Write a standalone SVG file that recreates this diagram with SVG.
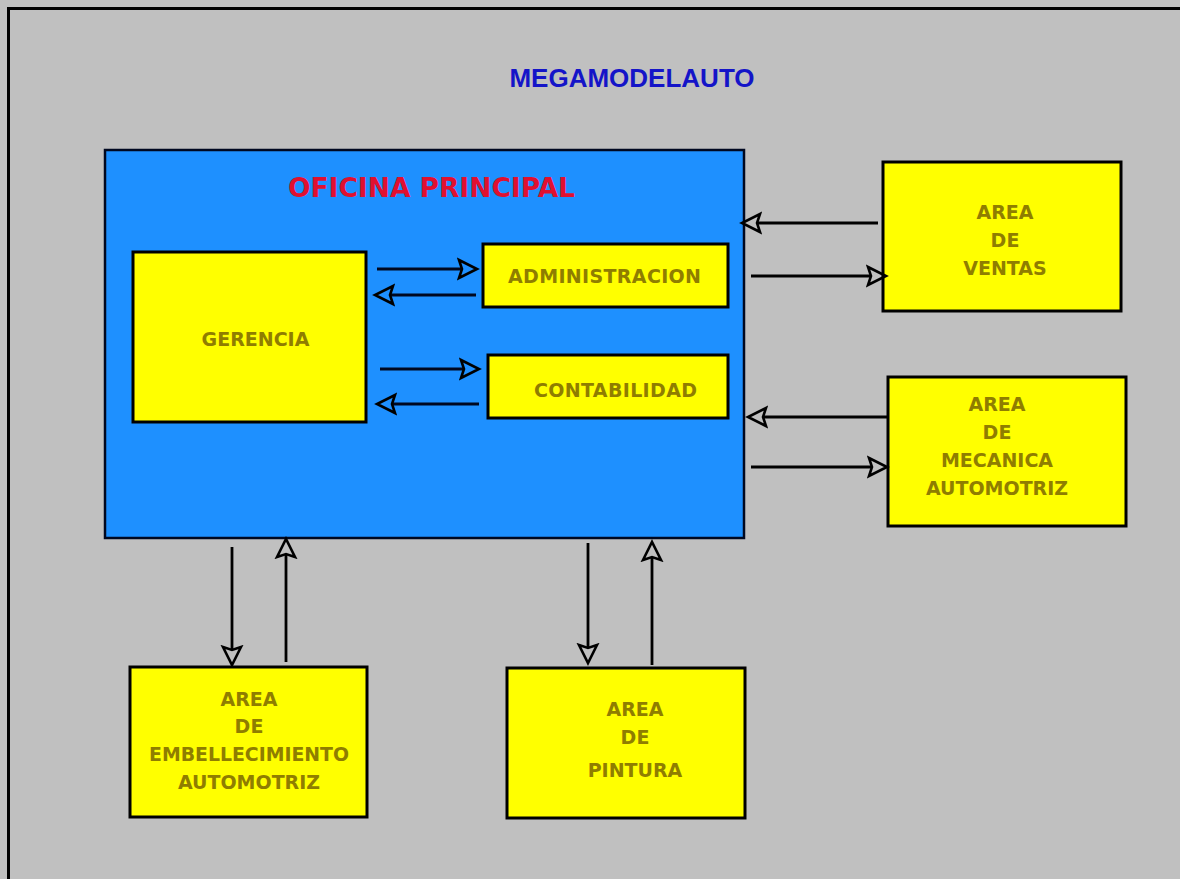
<svg xmlns="http://www.w3.org/2000/svg" width="1180" height="879" viewBox="0 0 1180 879">
  <style>
    .bg { fill: #c0c0c0; }
    .frame { stroke: #000; stroke-width: 3; fill: none; }
    .office { fill: #1e90ff; stroke: #000820; stroke-width: 2.5; }
    .box { fill: #ffff00; stroke: #000; stroke-width: 3; }
    .lbl { font-family: "DejaVu Sans", Verdana, sans-serif; font-weight: bold; font-size: 19px; fill: #8f7d00; text-anchor: middle; }
    .title { font-family: "Liberation Sans", Arial, sans-serif; font-weight: bold; font-size: 26px; fill: #1414c8; text-anchor: middle; }
    .office-title { font-family: "DejaVu Sans", Verdana, sans-serif; font-weight: bold; font-size: 26px; fill: #e01030; text-anchor: middle; }
    .link { stroke: #000; stroke-width: 2.8; fill: none; marker-end: url(#head); }
    .link-in { stroke: #000820; }
  </style>
  <defs>
    <marker id="head" viewBox="-2 -12 24 24" markerUnits="userSpaceOnUse" markerWidth="24" markerHeight="24" refX="3" refY="0" orient="auto">
      <path d="M0,-9 L18,0 L0,9 L3,0 Z" fill="none" stroke="#000" stroke-width="2.6" stroke-linejoin="miter"/>
    </marker>
  </defs>

  <!-- page -->
  <rect class="bg" x="0" y="0" width="1180" height="879"/>
  <path class="frame" d="M8.5,879 V8.5 H1180"/>

  <!-- title -->
  <text class="title" x="632" y="87">MEGAMODELAUTO</text>

  <!-- main office -->
  <g id="oficina-principal">
    <rect class="office" x="105" y="150" width="639" height="388"/>
    <text class="office-title" x="431.5" y="197" textLength="287" lengthAdjust="spacingAndGlyphs">OFICINA PRINCIPAL</text>
  </g>

  <g id="gerencia">
    <rect class="box" x="133" y="252" width="233" height="170"/>
    <text class="lbl" x="255.5" y="346">GERENCIA</text>
  </g>

  <g id="administracion">
    <rect class="box" x="483" y="244" width="245" height="63"/>
    <text class="lbl" x="604.5" y="283" textLength="193" lengthAdjust="spacing">ADMINISTRACION</text>
  </g>

  <g id="contabilidad">
    <rect class="box" x="488" y="355" width="240" height="63"/>
    <text class="lbl" x="615.5" y="397" textLength="163" lengthAdjust="spacing">CONTABILIDAD</text>
  </g>

  <g id="area-ventas">
    <rect class="box" x="883" y="162" width="238" height="149"/>
    <text class="lbl" x="1005" y="219">AREA</text>
    <text class="lbl" x="1005" y="247">DE</text>
    <text class="lbl" x="1005" y="275">VENTAS</text>
  </g>

  <g id="area-mecanica">
    <rect class="box" x="888" y="377" width="238" height="149"/>
    <text class="lbl" x="997" y="411">AREA</text>
    <text class="lbl" x="997" y="439">DE</text>
    <text class="lbl" x="997" y="467">MECANICA</text>
    <text class="lbl" x="997" y="495">AUTOMOTRIZ</text>
  </g>

  <g id="area-embellecimiento">
    <rect class="box" x="130" y="667" width="237" height="150"/>
    <text class="lbl" x="249" y="706">AREA</text>
    <text class="lbl" x="249" y="733">DE</text>
    <text class="lbl" x="249" y="761" textLength="200" lengthAdjust="spacingAndGlyphs">EMBELLECIMIENTO</text>
    <text class="lbl" x="249" y="789">AUTOMOTRIZ</text>
  </g>

  <g id="area-pintura">
    <rect class="box" x="507" y="668" width="238" height="150"/>
    <text class="lbl" x="635" y="716">AREA</text>
    <text class="lbl" x="635" y="744">DE</text>
    <text class="lbl" x="635" y="777">PINTURA</text>
  </g>

  <!-- connectors: each line stops where the hollow head's back notch sits (tip minus 15) -->
  <g id="connectors">
    <line class="link link-in" x1="377" y1="269" x2="462" y2="269"/>
    <line class="link link-in" x1="476" y1="295" x2="390" y2="295"/>
    <line class="link link-in" x1="380" y1="369" x2="464" y2="369"/>
    <line class="link link-in" x1="479" y1="404" x2="392" y2="404"/>

    <line class="link" x1="878" y1="223" x2="757" y2="223"/>
    <line class="link" x1="751" y1="276" x2="871" y2="276"/>
    <line class="link" x1="888" y1="417" x2="763" y2="417"/>
    <line class="link" x1="751" y1="467" x2="872" y2="467"/>

    <line class="link" x1="232" y1="547" x2="232" y2="650"/>
    <line class="link" x1="286" y1="662" x2="286" y2="554"/>
    <line class="link" x1="588" y1="543" x2="588" y2="648"/>
    <line class="link" x1="652" y1="665" x2="652" y2="557"/>
  </g>
</svg>
